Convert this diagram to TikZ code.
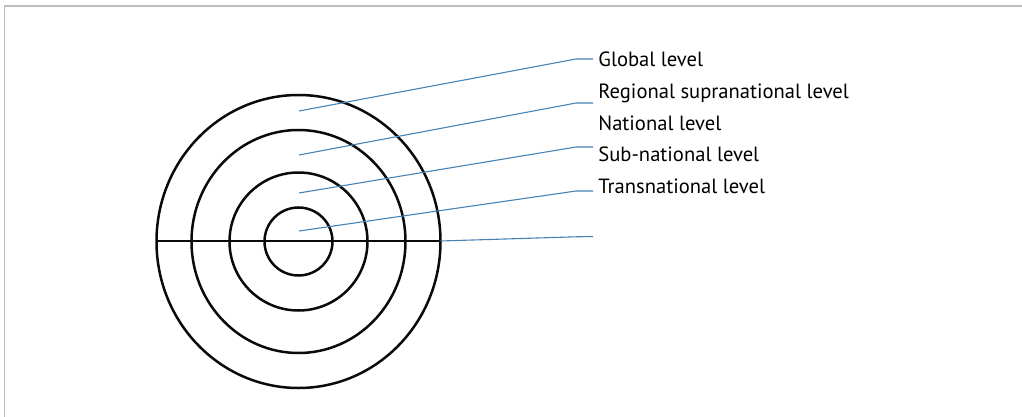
\documentclass[tikz,border=0pt]{standalone}
\usepackage{fontspec}
\setmainfont{PT Sans}
\usepackage{xcolor}
\definecolor{ringblack}{RGB}{10,10,10}
\definecolor{leaderblue}{RGB}{70,130,180}
\definecolor{framegray}{RGB}{190,190,190}
\usepackage{tikz}
\usetikzlibrary{positioning}

\begin{document}
\begin{tikzpicture}[
    x=0.5pt, y=-0.5pt,
    ring/.style={draw=ringblack, line width=1.25pt},
    leader/.style={draw=leaderblue, line width=0.55pt},
    lvl/.style={anchor=base west, inner sep=0pt, font=\fontsize{10.3}{12}\selectfont}
  ]
  \useasboundingbox (0,0) rectangle (1022,417);

  %% Open frame (top and left edge only)
  \draw[framegray, line width=0.75pt] (4.5,417) -- (4.5,6) -- (1022,6);

  %% Rings
  \coordinate (ctr) at (298.5,241.5);
  \draw[ring] (ctr) ellipse [x radius=71pt,  y radius=73.25pt];
  \draw[ring] (ctr) ellipse [x radius=53.5pt, y radius=55.75pt];
  \draw[ring] (ctr) ellipse [x radius=34.5pt, y radius=34.5pt];
  \draw[ring] (ctr) ellipse [x radius=17pt,  y radius=17pt];

  %% Diameter
  \coordinate (dl) at (156.5,241);
  \coordinate (dr) at (440.5,241);
  \draw[ring] (dl) -- (dr);

  %% Labels
  \node[lvl] (glob)  at (598,67)  {Global level};
  \node[lvl] (regio) at (598,98.7)  {Regional supranational level};
  \node[lvl] (natio) at (598,130.3) {National level};
  \node[lvl] (subn)  at (598,162) {Sub-national level};
  \node[lvl] (trans) at (598,193.5) {Transnational level};

  %% Leader lines
  \coordinate (p1) at (299,111);
  \coordinate (p2) at (299,155);
  \coordinate (p3) at (299,193);
  \coordinate (p4) at (299,231);
  \coordinate (e1) at (593,59);
  \coordinate (e2) at (593,103);
  \coordinate (e3) at (593,147);
  \coordinate (e4) at (593,191);
  \coordinate (e5) at (593,236.5);

  \draw[leader] (p1) -- (576,59) -- (e1);
  \draw[leader] (p2) -- (576,103) -- (e2);
  \draw[leader] (p3) -- (576,147) -- (e3);
  \draw[leader] (p4) -- (576,191) -- (e4);
  \draw[leader] (dr) -- (576,236.8) -- (e5);

\end{tikzpicture}
\end{document}
